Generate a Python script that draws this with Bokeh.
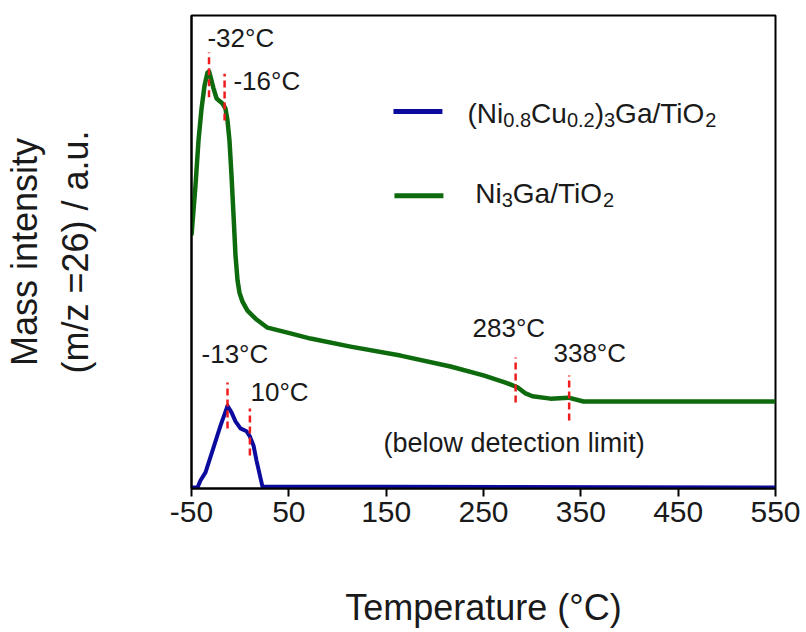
from bokeh.plotting import figure
from bokeh.models import Range1d, FixedTicker
from bokeh.core.properties import value
from bokeh.embed import file_html
from bokeh.resources import INLINE

# ---- data -------------------------------------------------------------
# Ni3Ga/TiO2 trace (temperature in degC, intensity in arbitrary units)
ni3ga_T = [-50.0, -45.9, -42.8, -39.7, -36.6, -33.6, -32.0, -30.5, -27.4, -24.3,
           -21.2, -18.2, -15.1, -13.0, -11.0, -8.9, -6.8, -4.8, -2.7, -0.7,
           2.4, 7.5, 15.8, 28.1, 51.7, 72.3, 113.4, 164.7, 216.1, 250.0,
           272.6, 284.9, 293.2, 300.3, 318.8, 337.3, 352.7, 550.0]
ni3ga_I = [53.5, 64.1, 73.6, 80.3, 85.2, 87.9, 88.2, 87.1, 84.6, 82.5,
           81.9, 81.4, 80.3, 77.8, 73.6, 66.2, 57.7, 49.3, 44.0, 41.4,
           39.5, 37.6, 35.9, 34.0, 32.8, 31.7, 30.0, 28.1, 25.8, 23.9,
           22.4, 21.4, 20.1, 19.5, 19.0, 19.2, 18.4, 18.4]

# (Ni0.8Cu0.2)3Ga/TiO2 trace
nicu_T = [-50.0, -43.8, -40.8, -35.6, -28.4, -20.2, -14.0, -13.0, -8.9, -4.8,
          0.3, 6.5, 10.0, 13.7, 16.8, 22.9, 550.0]
nicu_I = [0.2, 0.2, 1.7, 3.4, 8.0, 13.3, 16.9, 17.5, 16.1, 14.2,
          12.7, 12.1, 11.0, 9.1, 5.9, 0.4, 0.2]

# desorption peak markers: temperature, lower / upper end of the dashed tick
peak_T = [-32, -16, -13, 10, 283, 338]
peak_lo = [82.7, 77.8, 12.7, 7.0, 18.2, 14.4]
peak_hi = [92.2, 87.7, 22.4, 16.9, 27.7, 23.9]

x_ticks = [-50, 50, 150, 250, 350, 450, 550]

# ---- figure -----------------------------------------------------------
W, H = 806, 632
BL, BR, BT, BB = 191, 31, 15, 144
X0, X1, Y0, Y1 = -50, 550, 0, 100
KX = (W - BL - BR) / (X1 - X0)   # px per degC
KY = (H - BT - BB) / (Y1 - Y0)   # px per intensity unit

FONT = "Liberation Sans"
INK = "#1a1a1a"
GREEN = "#0d6b0d"
BLUE = "#0b0b9e"
RED = "#ee1c1c"

p = figure(width=W, height=H, x_range=Range1d(X0, X1), y_range=Range1d(Y0, Y1),
           output_backend="svg", toolbar_location=None,
           min_border_left=BL, min_border_right=BR,
           min_border_top=BT, min_border_bottom=BB)
p.grid.visible = False
p.outline_line_color = "black"
p.outline_line_width = 2
p.background_fill_color = "white"
p.border_fill_color = "white"

ax = p.xaxis[0]
ax.ticker = FixedTicker(ticks=x_ticks)
ax.major_label_overrides = {t: str(t) for t in x_ticks}
ax.minor_tick_line_color = None
ax.axis_line_width = 2
ax.major_tick_line_width = 2
ax.major_tick_in = 0
ax.major_tick_out = 8
ax.major_label_standoff = 5
ax.major_label_text_font = FONT
ax.major_label_text_font_size = "30px"
ax.major_label_text_color = INK
ax.axis_label = "Temperature (\u00b0C)"
ax.axis_label_text_font = FONT
ax.axis_label_text_font_size = "36px"
ax.axis_label_text_font_style = "normal"
ax.axis_label_text_color = INK
ax.axis_label_standoff = 62

# y axis: no ticks, only the two-line title
ay = p.yaxis[0]
ay.ticker = FixedTicker(ticks=[])
ay.major_tick_line_color = None
ay.minor_tick_line_color = None
ay.major_tick_out = 0
ay.major_tick_in = 0
ay.major_label_standoff = 0
ay.axis_line_width = 2
ay.axis_label = "Mass intensity\n(m/z =26) / a.u."
ay.axis_label_text_font = FONT
ay.axis_label_text_font_size = "36px"
ay.axis_label_text_font_style = "normal"
ay.axis_label_text_color = INK
ay.axis_label_text_align = "center"
ay.axis_label_text_line_height = 1.22
ay.axis_label_standoff = 96

# ---- traces -----------------------------------------------------------
p.line(nicu_T, nicu_I, line_color=BLUE, line_width=4, line_join="round")
p.line(ni3ga_T, ni3ga_I, line_color=GREEN, line_width=4.5, line_join="round")
p.segment(x0=peak_T, y0=peak_lo, x1=peak_T, y1=peak_hi,
          line_color=RED, line_width=2.5, line_dash="7 4")

LIFT = 10 / KY  # raise text so the alphabetic baseline sits where intended


def txt(x, y, s, size=26, align="left"):
    p.text(x=[x], y=[y + LIFT], text=[s], text_font=value(FONT),
           text_font_size=f"{size}px", text_color=INK,
           text_align=align, text_baseline="alphabetic")


# peak temperature annotations
txt(-33.6, 93.2, "-32\u00b0C")
txt(-6.9, 84.1, "-16\u00b0C")
txt(-39.7, 26.4, "-13\u00b0C")
txt(10.6, 18.2, "10\u00b0C")
txt(238.7, 31.9, "283\u00b0C")
txt(321.9, 26.6, "338\u00b0C")
txt(147.3, 7.6, "(below detection limit)", size=27)

# ---- legend with subscripts ------------------------------------------
ADV = {"(": .333, ")": .333, "N": .722, "i": .222, "C": .722, "u": .556,
       "G": .778, "a": .556, "/": .278, "T": .611, "O": .778, ".": .278,
       "0": .556, "2": .556, "3": .556, "8": .556}
MAIN, SUB, SUB_DROP = 28, 20, 7


def rich(x, y, pieces):
    cursor = 0.0
    for s, sub in pieces:
        size = SUB if sub else MAIN
        yy = y - (SUB_DROP / KY if sub else 0)
        txt(x + cursor / KX, yy, s, size=size)
        cursor += sum(ADV[c] for c in s) * size


p.line([157.5, 207.8], [79.7, 79.7], line_color=BLUE, line_width=5)
p.line([158.5, 208.8], [61.9, 61.9], line_color=GREEN, line_width=5)
rich(233.6, 77.2, [("(Ni", False), ("0.8", True), ("Cu", False), ("0.2", True),
                   (")", False), ("3", True), ("Ga/TiO", False), ("2", True)])
rich(241.5, 60.3, [("Ni", False), ("3", True), ("Ga/TiO", False), ("2", True)])

open("out.html", "w").write(file_html(p, INLINE))
